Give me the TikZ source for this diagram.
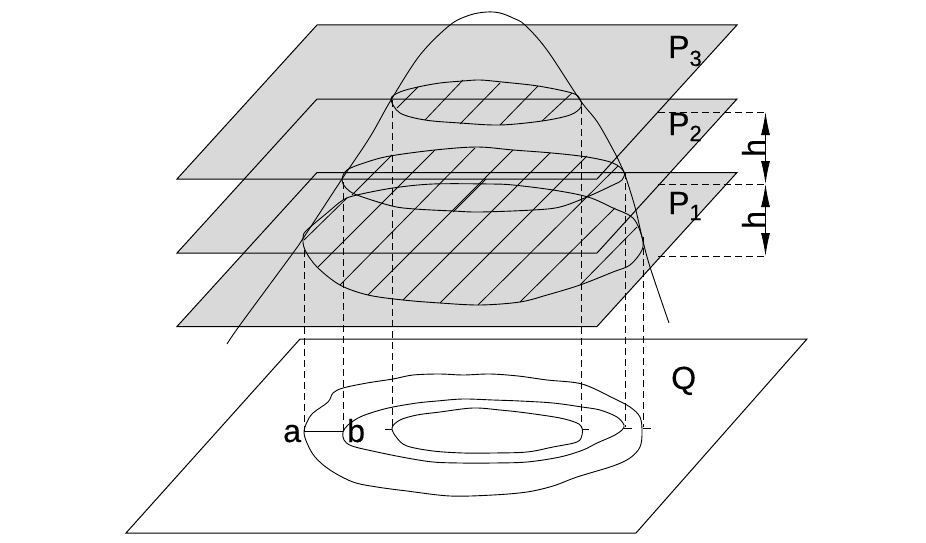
\documentclass[tikz,border=0pt]{standalone}
\usepackage{fontspec}
\setmainfont[FakeBold=0.35]{Liberation Sans}
\usetikzlibrary{arrows.meta}
\definecolor{planegray}{RGB}{217,217,217}
\tikzset{
    plane/.style={draw=black, line width=1pt},
    thin line/.style={black, line width=0.8pt},
    curve/.style={black, line width=0.9pt, smooth, tension=0.55},
    dash line/.style={black, line width=0.9pt, dash pattern=on 7pt off 4pt},
    dim arrow/.style={black, line width=0.9pt, -{Latex[length=23pt,width=9pt]}},
    lbl/.style={inner sep=0pt, anchor=base west, font=\fontsize{32}{32}\selectfont}
}
\newcommand{\subnum}[2]{\raisebox{-#1pt}{\fontsize{22}{22}\selectfont #2}}
\begin{document}
\begin{tikzpicture}[x=1pt,y=-1pt]
    \useasboundingbox (0,0) rectangle (926,543);
    \fill[white] (0,0) rectangle (926,543);

    \foreach \y in {25,99,172.5}
        \fill[planegray] (317,\y) -- ++(420,0) -- ++(-140,154) -- ++(-420,0) -- cycle;
    \foreach \y in {25,99,172.5}
        \draw[plane] (317,\y) -- ++(420,0) -- ++(-140,154) -- ++(-420,0) -- cycle;
    \draw[plane] (300,339) -- (807,339) -- (636,533) -- (126,533) -- cycle;

    \draw[curve] plot coordinates {(227,344) (240,325) (293,253) (304,237) (342,179) (370,137) (391,100) (420,55) (450,25) (470,15) (487,12) (500,13) (513,18) (525,25) (547,50) (580,100) (598,123) (617,157) (624,172) (635,207) (642,237) (650,267) (669,323)};

    \draw[curve] plot[smooth cycle] coordinates {(391,99) (400,92) (418,87) (440,83) (463,81) (480,80) (502,82) (538,86) (572,93) (580,99) (581,107) (570,115) (542,121) (500,125) (460,123) (425,120) (400,113)};
    \draw[curve] plot[smooth cycle] coordinates {(342,180) (347,170) (367,162) (390,156) (435,150) (477,147) (513,150) (552,153) (587,157) (613,163) (624,172) (622,180) (613,185) (587,197) (560,207) (533,210) (480,212) (453,211) (415,209) (392,206) (357,195) (346,188)};
    \draw[curve] plot[smooth cycle] coordinates {(303,237) (307,230) (327,213) (343,200) (357,195) (393,188) (433,184) (490,184) (513,185) (553,190) (588,197) (613,208) (633,218) (642,237) (642,250) (630,265) (613,272) (580,285) (547,295) (520,302) (480,305) (440,303) (403,300) (368,295) (340,285) (317,267) (305,250)};

    \foreach \a/\b/\c/\d in {418/87/397/108, 463/80/425/120, 500/83/460/124, 538/86/500/125, 572/93/542/121,
                             304/240/347/198, 392/155/352/195, 435/150/318/267, 475/148/340/285, 368/295/513/150,
                             403/300/550/153, 440/303/587/156, 478/305/618/166, 520/302/615/208, 580/285/637/227,
                             453/212/486/179}
        \draw[thin line] (\a,\b) -- (\c,\d);

    \foreach \x/\a/\b in {304/250/431, 343/182/431, 392/100/428, 581/107/428, 625/172/427, 643/237/427}
        \draw[dash line] (\x,\a) -- (\x,\b);

    \draw[curve] plot[smooth cycle] coordinates {(392,428) (400,420) (417,415) (440,412) (473,408) (500,410) (527,413) (560,418) (577,423) (582,428) (582,435) (577,442) (553,447) (527,452) (493,453) (463,453) (433,451) (407,446) (397,438)};
    \draw[curve] plot[smooth cycle] coordinates {(624,425) (617,417) (600,410) (582,407) (553,403) (520,401) (493,400) (463,399) (437,401) (417,403) (393,407) (377,411) (360,417) (348,425) (343,432) (344,440) (352,446) (377,452) (407,458) (433,462) (460,463) (493,463) (527,462) (560,457) (583,450) (597,443) (613,436) (622,430)};
    \draw[curve] plot[smooth cycle] coordinates {(642,432) (640,417) (630,407) (613,398) (582,384) (547,380) (518,376) (490,374) (463,375) (440,374) (413,375) (393,379) (367,383) (343,388) (333,393) (328,402) (313,413) (307,422) (304,432) (307,443) (315,457) (330,470) (353,482) (377,487) (407,491) (450,496) (493,495) (527,492) (553,486) (577,477) (613,466) (630,458) (640,447)};

    \foreach \a/\b/\c in {385/392/429, 582/589/429, 624/632/428, 643/651/428, 304/343/431}
        \draw[thin line] (\a,\c) -- (\b,\c);

    \foreach \y in {112,184,256}
        \draw[dash line] (658,\y) -- (767,\y);
    \coordinate (dimA) at (765.5,112);
    \coordinate (dimB) at (765.5,184);
    \coordinate (dimC) at (765.5,256);
    \coordinate (midA) at (765.5,148);
    \coordinate (midB) at (765.5,220);
    \draw[dim arrow] (midA) -- (dimA);
    \draw[dim arrow] (midA) -- (dimB);
    \draw[dim arrow] (midB) -- (dimB);
    \draw[dim arrow] (midB) -- (dimC);

    \node[lbl] (pthree) at (668,58) {P\subnum{8}{3}};
    \node[lbl] (ptwo) at (668,135) {P\subnum{6}{2}};
    \node[lbl] (pone) at (668,214) {P\subnum{6}{1}};
    \node[lbl] (planeq) at (671,389) {Q};
    \node[lbl] (pointa) at (283,442) {a};
    \node[lbl] (pointb) at (347,442) {b};
    \node[lbl, rotate=90] (hup) at (765,157) {h};
    \node[lbl, rotate=90] (hlow) at (765,229) {h};
\end{tikzpicture}
\end{document}
